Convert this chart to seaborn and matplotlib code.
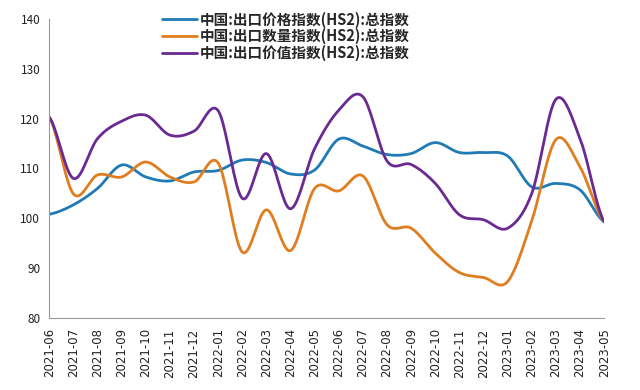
import numpy as np
import pandas as pd
import seaborn as sns
import matplotlib.pyplot as plt

# months on the x axis
months = ["2021-06", "2021-07", "2021-08", "2021-09", "2021-10", "2021-11", "2021-12",
          "2022-01", "2022-02", "2022-03", "2022-04", "2022-05", "2022-06", "2022-07",
          "2022-08", "2022-09", "2022-10", "2022-11", "2022-12", "2023-01", "2023-02",
          "2023-03", "2023-04", "2023-05"]

# values
price = [100.8, 102.7, 106.0, 110.7, 108.3, 107.5, 109.3, 109.6, 111.7, 111.2, 108.9, 109.7,
         115.9, 114.5, 112.8, 113.0, 115.2, 113.2, 113.2, 112.5, 106.3, 107.0, 105.7, 99.3]
quantity = [120.3, 104.9, 108.7, 108.3, 111.3, 108.3, 107.3, 111.1, 93.2, 101.7, 93.5, 106.0,
            105.5, 108.5, 98.7, 98.0, 93.0, 89.1, 88.1, 87.3, 99.5, 115.8, 110.3, 99.3]
value = [120.3, 108.0, 116.0, 119.5, 120.7, 116.7, 117.5, 121.6, 104.0, 113.0, 101.9, 114.0,
         121.7, 124.4, 111.5, 110.8, 107.0, 100.7, 99.7, 98.0, 105.0, 123.9, 116.0, 99.3]

names = ["中国:出口价格指数(HS2):总指数",
         "中国:出口数量指数(HS2):总指数",
         "中国:出口价值指数(HS2):总指数"]
colors = ["#1f7ab5", "#df7d1f", "#6a2a92"]


# excel style smoothed line (catmull-rom through each point)
def smooth(y, steps=20):
    y = np.asarray(y, dtype=float)
    p = np.concatenate([[y[0]], y, [y[-1]]])
    xs, ys = [], []
    for i in range(len(y) - 1):
        p0, p1, p2, p3 = p[i], p[i + 1], p[i + 2], p[i + 3]
        t = np.linspace(0, 1, steps, endpoint=False)
        seg = 0.5 * ((2 * p1) + (-p0 + p2) * t + (2 * p0 - 5 * p1 + 4 * p2 - p3) * t ** 2
                     + (-p0 + 3 * p1 - 3 * p2 + p3) * t ** 3)
        xs.append(i + t)
        ys.append(seg)
    xs.append([len(y) - 1])
    ys.append([y[-1]])
    return np.concatenate(xs), np.concatenate(ys)


frames = []
for name, series in zip(names, [price, quantity, value]):
    xs, ys = smooth(series)
    frames.append(pd.DataFrame({"x": xs, "y": ys, "series": name}))
df = pd.concat(frames)

sns.set_style("white")
plt.rcParams["font.family"] = ["Noto Sans CJK SC", "DejaVu Sans"]

fig = plt.figure(figsize=(6.4, 3.9), dpi=100)
ax = fig.add_axes([0.077, 0.185, 0.867, 0.766])

sns.lineplot(data=df, x="x", y="y", hue="series", palette=colors, linewidth=2,
             ax=ax, sort=False, estimator=None)

ax.set_xlim(0, len(months) - 1)
ax.set_ylim(80, 140)
ax.set_yticks(range(80, 141, 10))
ax.set_xticks(range(len(months)))
ax.set_xticklabels(months, rotation=90, fontsize=8.5, family="DejaVu Sans", color="#222222")
ax.tick_params(axis="y", labelsize=8.5, colors="#222222")
ax.tick_params(axis="both", direction="out", length=4, width=0.8, color="#999999")
ax.tick_params(axis="y", length=3)
ax.set_xlabel("")
ax.set_ylabel("")
for s in ["top", "right"]:
    ax.spines[s].set_visible(False)
for s in ["left", "bottom"]:
    ax.spines[s].set_color("#999999")
    ax.spines[s].set_linewidth(0.8)

leg = ax.legend(loc="upper left", bbox_to_anchor=(0.18, 1.07), frameon=False,
                prop={"size": 10.5, "weight": "bold"}, handlelength=2.4,
                handletextpad=0.2, labelspacing=0.05)

fig.savefig("out.png", dpi=100)
